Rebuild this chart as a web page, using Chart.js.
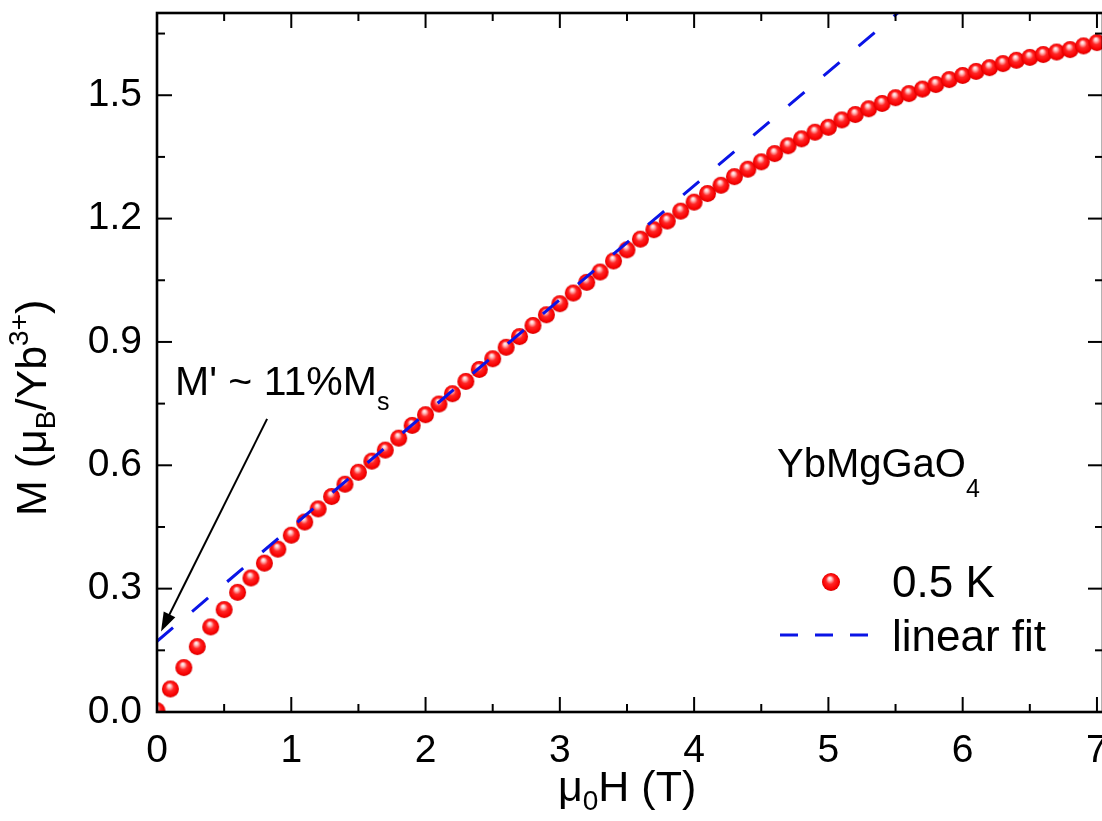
<!DOCTYPE html>
<html>
<head>
<meta charset="utf-8">
<title>YbMgGaO4 magnetization</title>
<script src="https://cdn.jsdelivr.net/npm/chart.js@4.4.0/dist/chart.umd.min.js"></script>
<style>
  html, body { margin: 0; padding: 0; overflow: hidden; background: #fff; }
  #wrap { width: 1106px; height: 821px; }
</style>
</head>
<body>
<div id="wrap"><canvas id="mh" width="1106" height="821"></canvas></div>
<script>
const FONT = '"Liberation Sans", Arial, Helvetica, sans-serif';

// magnetization at 0.5 K, field in tesla, M in Bohr magnetons per Yb3+
const fieldT = [
  0.0, 0.1, 0.2, 0.3, 0.4, 0.5, 0.6, 0.7, 0.8, 0.9,
  1.0, 1.1, 1.2, 1.3, 1.4, 1.5, 1.6, 1.7, 1.8, 1.9,
  2.0, 2.1, 2.2, 2.3, 2.4, 2.5, 2.6, 2.7, 2.8, 2.9,
  3.0, 3.1, 3.2, 3.3, 3.4, 3.5, 3.6, 3.7, 3.8, 3.9,
  4.0, 4.1, 4.2, 4.3, 4.4, 4.5, 4.6, 4.7, 4.8, 4.9,
  5.0, 5.1, 5.2, 5.3, 5.4, 5.5, 5.6, 5.7, 5.8, 5.9,
  6.0, 6.1, 6.2, 6.3, 6.4, 6.5, 6.6, 6.7, 6.8, 6.9,
  7.0
];
const moment05K = [
  0.003, 0.056, 0.108, 0.159, 0.207, 0.249, 0.291, 0.326, 0.362, 0.396,
  0.430, 0.462, 0.494, 0.524, 0.554, 0.583, 0.610, 0.637, 0.666, 0.697,
  0.723, 0.749, 0.774, 0.804, 0.833, 0.859, 0.887, 0.913, 0.940, 0.966,
  0.993, 1.019, 1.045, 1.070, 1.097, 1.124, 1.150, 1.173, 1.194, 1.218,
  1.240, 1.261, 1.281, 1.302, 1.320, 1.338, 1.358, 1.377, 1.394, 1.410,
  1.422, 1.440, 1.453, 1.467, 1.480, 1.494, 1.504, 1.515, 1.526, 1.538,
  1.548, 1.558, 1.567, 1.577, 1.585, 1.592, 1.599, 1.605, 1.611, 1.620,
  1.628
];

// linear fit end points
const fitField = [0, 7];
const fitMoment = [0.172, 2.111];

const xTicks = [0, 1, 2, 3, 4, 5, 6, 7];
const xMinorTicks = [0.5, 1.5, 2.5, 3.5, 4.5, 5.5, 6.5];
const yTicks = [0.0, 0.3, 0.6, 0.9, 1.2, 1.5];
const yMinorTicks = [0.15, 0.45, 0.75, 1.05, 1.35, 1.65];

// arrow pointing at the fit intercept (data coordinates)
const arrowFrom = [0.82, 0.713];
const arrowTo = [0.03, 0.196];

function sphere(r) {
  const c = document.createElement('canvas');
  c.width = c.height = Math.ceil(2 * r + 2);
  const g = c.getContext('2d');
  const m = c.width / 2;
  const grad = g.createRadialGradient(m - r * 0.15, m - r * 0.45, 0, m, m, r);
  grad.addColorStop(0, '#ffffff');
  grad.addColorStop(0.2, '#ffc4c4');
  grad.addColorStop(0.48, '#ff2626');
  grad.addColorStop(0.85, '#f80000');
  grad.addColorStop(1, '#d20000');
  g.fillStyle = grad;
  g.beginPath();
  g.arc(m, m, r, 0, Math.PI * 2);
  g.fill();
  return c;
}

const ball = sphere(8.5);
const legendBall = sphere(9);

function drawRich(ctx, parts, x, y) {
  let cx = x;
  parts.forEach(p => {
    ctx.font = p.size + 'px ' + FONT;
    ctx.fillText(p.t, cx, y + (p.dy || 0));
    cx += ctx.measureText(p.t).width;
  });
}

function tickLine(ctx, x1, y1, x2, y2) {
  ctx.beginPath();
  ctx.moveTo(x1, y1);
  ctx.lineTo(x2, y2);
  ctx.stroke();
}

// no automatic edge padding for the axes, the frame is placed by hand
function noEdgePad(s) {
  s.paddingTop = s.paddingBottom = s.paddingLeft = s.paddingRight = 0;
}

const frame = {
  id: 'frame',
  afterDraw(chart) {
    const { ctx, chartArea: a } = chart;
    const x = chart.scales.x, y = chart.scales.y;
    ctx.save();
    ctx.strokeStyle = '#000';
    ctx.fillStyle = '#000';

    // inward ticks on all four sides
    ctx.lineWidth = 2;
    const major = 15, minor = 8;
    xTicks.forEach(v => {
      const p = x.getPixelForValue(v);
      tickLine(ctx, p, a.bottom, p, a.bottom - major);
      tickLine(ctx, p, a.top, p, a.top + major);
    });
    xMinorTicks.forEach(v => {
      const p = x.getPixelForValue(v);
      tickLine(ctx, p, a.bottom, p, a.bottom - minor);
      tickLine(ctx, p, a.top, p, a.top + minor);
    });
    yTicks.forEach(v => {
      const p = y.getPixelForValue(v);
      tickLine(ctx, a.left, p, a.left + major, p);
      tickLine(ctx, a.right, p, a.right - major, p);
    });
    yMinorTicks.forEach(v => {
      const p = y.getPixelForValue(v);
      tickLine(ctx, a.left, p, a.left + minor, p);
      tickLine(ctx, a.right, p, a.right - minor, p);
    });

    ctx.lineWidth = 2.6;
    ctx.strokeRect(a.left, a.top, a.right - a.left, a.bottom - a.top);

    // axis titles
    ctx.textAlign = 'left';
    ctx.textBaseline = 'alphabetic';
    drawRich(ctx, [
      { t: '\u03bc', size: 43 },
      { t: '0', size: 28, dy: 9 },
      { t: 'H (T)', size: 43 }
    ], 558, 801);

    ctx.save();
    ctx.translate(46, 516);
    ctx.rotate(-Math.PI / 2);
    drawRich(ctx, [
      { t: 'M (\u03bc', size: 43 },
      { t: 'B', size: 28, dy: 9 },
      { t: '/Yb', size: 43 },
      { t: '3+', size: 28, dy: -18 },
      { t: ')', size: 43 }
    ], 0, 0);
    ctx.restore();

    // annotation with arrow
    drawRich(ctx, [
      { t: "M' ~ 11%M", size: 41 },
      { t: 's', size: 25, dy: 15 }
    ], 175, 395);

    const ax1 = x.getPixelForValue(arrowFrom[0]), ay1 = y.getPixelForValue(arrowFrom[1]);
    const ax2 = x.getPixelForValue(arrowTo[0]), ay2 = y.getPixelForValue(arrowTo[1]);
    const ang = Math.atan2(ay2 - ay1, ax2 - ax1);
    const headLen = 19, headHalf = 6.5;
    ctx.lineWidth = 2;
    tickLine(ctx, ax1, ay1, ax2 - Math.cos(ang) * headLen * 0.8, ay2 - Math.sin(ang) * headLen * 0.8);
    ctx.beginPath();
    ctx.moveTo(ax2, ay2);
    ctx.lineTo(ax2 - Math.cos(ang) * headLen - Math.sin(ang) * headHalf,
               ay2 - Math.sin(ang) * headLen + Math.cos(ang) * headHalf);
    ctx.lineTo(ax2 - Math.cos(ang) * headLen + Math.sin(ang) * headHalf,
               ay2 - Math.sin(ang) * headLen - Math.cos(ang) * headHalf);
    ctx.closePath();
    ctx.fill();

    // compound label
    drawRich(ctx, [
      { t: 'YbMgGaO', size: 40 },
      { t: '4', size: 25, dy: 20 }
    ], 777, 477);

    // legend
    const ds = chart.data.datasets;
    ctx.drawImage(legendBall, 831 - legendBall.width / 2, 582 - legendBall.height / 2);
    drawRich(ctx, [{ t: ds[1].label, size: 44 }], 892, 597);

    ctx.strokeStyle = ds[0].borderColor;
    ctx.lineWidth = ds[0].borderWidth;
    ctx.setLineDash([18, 17]);
    tickLine(ctx, 780, 635, 868, 635);
    ctx.setLineDash([]);
    drawRich(ctx, [{ t: ds[0].label, size: 44 }], 892, 651);

    ctx.restore();
  }
};

new Chart(document.getElementById('mh'), {
  type: 'scatter',
  data: {
    datasets: [
      {
        label: 'linear fit',
        type: 'line',
        data: fitField.map((v, i) => ({ x: v, y: fitMoment[i] })),
        borderColor: '#0a14e6',
        borderWidth: 3,
        borderDash: [21, 25],
        pointRadius: 0,
        fill: false,
        order: 0,
        clip: 0
      },
      {
        label: '0.5 K',
        data: fieldT.map((v, i) => ({ x: v, y: moment05K[i] })),
        pointStyle: ball,
        pointRadius: 8.5,
        order: 1,
        clip: 0
      }
    ]
  },
  options: {
    responsive: false,
    animation: false,
    events: [],
    layout: { autoPadding: false, padding: { top: 13, right: 3, left: 0, bottom: 0 } },
    plugins: { legend: { display: false }, tooltip: { enabled: false } },
    scales: {
      x: {
        type: 'linear',
        min: 0,
        max: 7.045,
        grid: { display: false, drawTicks: false },
        border: { display: false },
        afterBuildTicks: s => { s.ticks = xTicks.map(v => ({ value: v })); },
        afterFit: s => { s.height = 109; noEdgePad(s); },
        ticks: {
          color: '#000',
          padding: 16,
          maxRotation: 0,
          font: { family: FONT, size: 39 },
          callback: v => String(v)
        }
      },
      y: {
        type: 'linear',
        min: 0,
        max: 1.70,
        grid: { display: false, drawTicks: false },
        border: { display: false },
        afterBuildTicks: s => { s.ticks = yTicks.map(v => ({ value: v })); },
        afterFit: s => { s.width = 157; noEdgePad(s); },
        ticks: {
          color: '#000',
          padding: 15,
          font: { family: FONT, size: 39 },
          callback: v => v.toFixed(1)
        }
      }
    }
  },
  plugins: [frame]
});
</script>
</body>
</html>
